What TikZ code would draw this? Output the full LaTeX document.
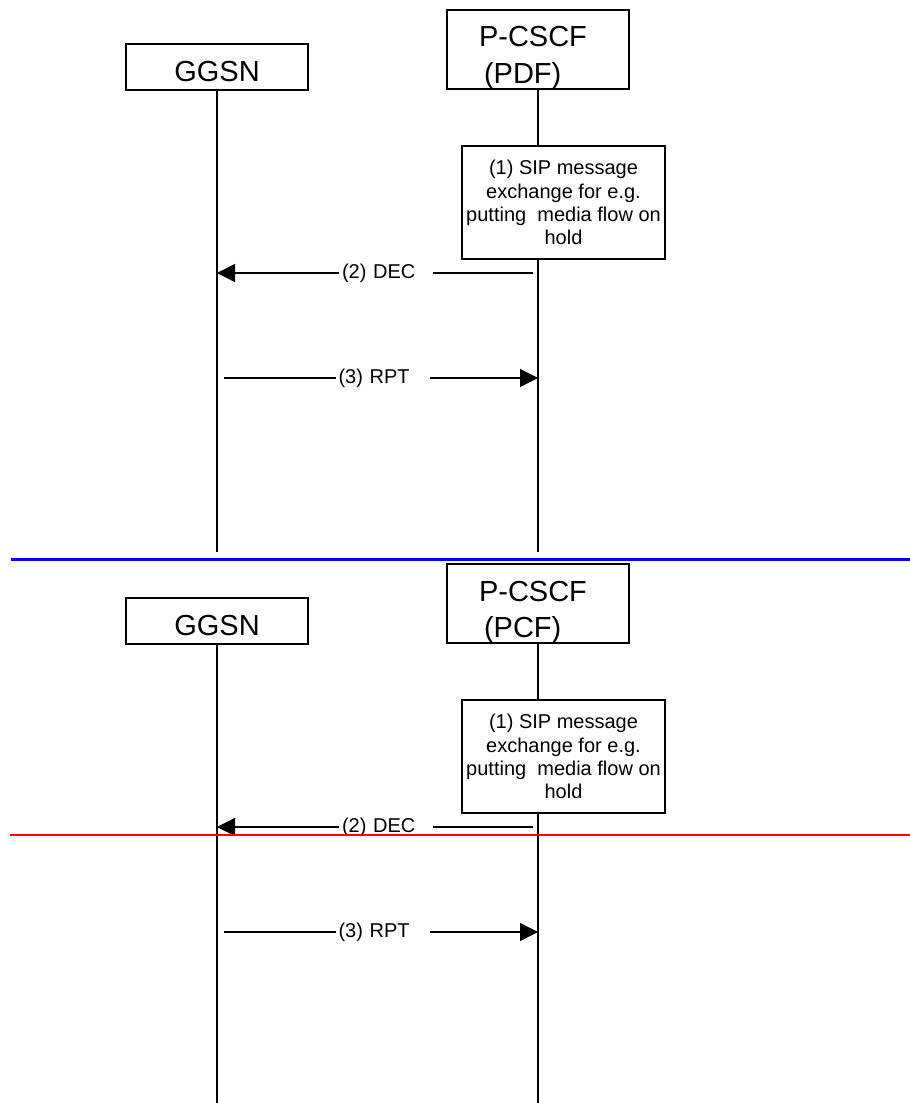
\documentclass[tikz,border=0pt]{standalone}
\usepackage{fontspec}
\setmainfont{Liberation Sans}
\usetikzlibrary{arrows.meta,calc}
\newcommand{\topgap}[1]{\rule{0pt}{#1}}

\begin{document}
\begin{tikzpicture}[
  x=1pt, y=-1pt,
  line width=1.3pt,
  head/.style={draw, fill=white, inner sep=0pt, minimum width=182pt, font=\fontsize{29}{36}\selectfont},
  action/.style={draw, fill=white, inner sep=0pt, align=center, minimum width=203pt, minimum height=113pt, font=\fontsize{20}{23.3}\selectfont},
  life/.style={line width=1.3pt},
  msg/.style={-{Triangle[length=18pt, width=18pt]}},
  msglabel/.style={fill=white, text width=88pt, align=left, inner xsep=3pt, inner ysep=1pt, font=\fontsize{20}{23}\selectfont}
]
\useasboundingbox (0,0) rectangle (910,1103);

% upper half (PDF)
\node[head, minimum height=46pt] (ggsn) at (217,67) {\topgap{29.8pt}GGSN};
\node[head, minimum height=79pt, text width=118pt, inner xsep=32pt, align=left] (pdf) at (538,49.5) {\topgap{37pt}P-CSCF\\\hspace*{5pt}(PDF)};

\coordinate (ggsn-end) at (ggsn.south |- 0,552);
\coordinate (pdf-end) at (pdf.south |- 0,552);
\draw[life] (ggsn.south) -- (ggsn-end);
\draw[life] (pdf.south) -- (pdf-end);

\node[action] (sip) at (563.5,202.5) {(1) SIP message\\exchange for e.g.\\putting\ \ media flow on\\hold};

\coordinate (dec) at (0,273);
\coordinate (rpt) at (0,378);
\draw[msg] ($(pdf.south |- dec)+(-5,0)$) -- node[msglabel, pos=0.465] (declbl) {(2) DEC} (ggsn.south |- dec);
\draw[msg] ($(ggsn.south |- rpt)+(7,0)$) -- node[msglabel, pos=0.505] (rptlbl) {(3) RPT} (pdf.south |- rpt);

\draw[blue, line width=3pt] (11,559) -- (910,559);

% lower half (PCF)
\node[head, minimum height=46pt] (ggsn2) at (217,621) {\topgap{29.8pt}GGSN};
\node[head, minimum height=79pt, text width=118pt, inner xsep=32pt, align=left] (pcf) at (538,603.5) {\topgap{37pt}P-CSCF\\\hspace*{5pt}(PCF)};

\coordinate (ggsn2-end) at (ggsn2.south |- 0,1103);
\coordinate (pcf-end) at (pcf.south |- 0,1103);
\draw[life] (ggsn2.south) -- (ggsn2-end);
\draw[life] (pcf.south) -- (pcf-end);

\node[action] (sip2) at (563.5,756.5) {(1) SIP message\\exchange for e.g.\\putting\ \ media flow on\\hold};

\coordinate (dec2) at (0,827);
\coordinate (rpt2) at (0,932);
\draw[msg] ($(pcf.south |- dec2)+(-5,0)$) -- node[msglabel, pos=0.465] (declbl2) {(2) DEC} (ggsn2.south |- dec2);
\draw[msg] ($(ggsn2.south |- rpt2)+(7,0)$) -- node[msglabel, pos=0.505] (rptlbl2) {(3) RPT} (pcf.south |- rpt2);

\draw[red, line width=1.5pt] (10,835) -- (910,835);

\end{tikzpicture}
\end{document}
